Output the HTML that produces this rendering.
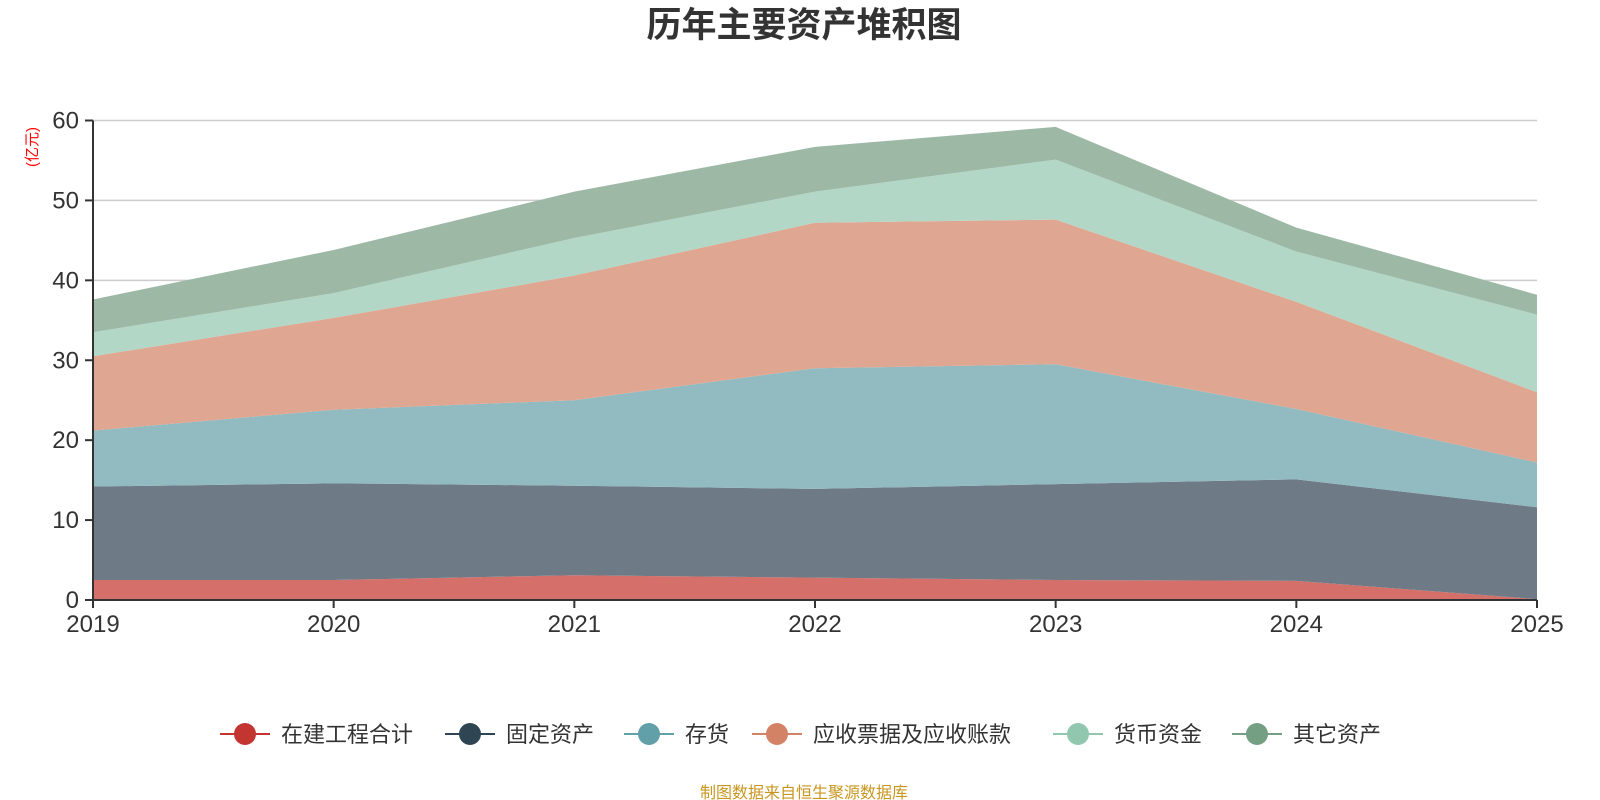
<!DOCTYPE html>
<html><head><meta charset="utf-8"><style>
body{margin:0;background:#fff;width:1600px;height:800px;overflow:hidden;font-family:"Liberation Sans","Noto Sans CJK SC",sans-serif;}
</style></head><body>
<svg width="1600" height="800" style="position:absolute;left:0;top:0">
<text x="804" y="37" text-anchor="middle" font-size="35" font-weight="bold" fill="#333">历年主要资产堆积图</text>
<text transform="translate(37,147) rotate(-90)" text-anchor="middle" font-size="15" fill="#ff0000">(亿元)</text>
<g id="grid"></g><g id="areas"></g><g id="axes"></g><g id="legend"></g>
<text x="804" y="798" text-anchor="middle" font-size="16" fill="#c8961e">制图数据来自恒生聚源数据库</text>
</svg>
<script>
const years=['2019','2020','2021','2022','2023','2024','2025'];
const seriesNames=['在建工程合计','固定资产','存货','应收票据及应收账款','货币资金','其它资产'];
const s0=[2.5,2.5,3.1,2.8,2.5,2.4,0.1];
const s1=[11.7,12.1,11.2,11.1,12.0,12.7,11.5];
const s2=[7.0,9.2,10.7,15.1,15.0,8.8,5.6];
const s3=[9.3,11.5,15.6,18.2,18.1,13.4,8.8];
const s4=[3.0,3.1,4.7,3.9,7.5,6.3,9.7];
const s5=[4.1,5.4,5.8,5.6,4.1,3.0,2.5];
const yTicks=[0,10,20,30,40,50,60];
const series=[s0,s1,s2,s3,s4,s5];
const fills=['#d46f6a','#6e7b86','#91bac1','#dfa692','#b2d7c6','#9db9a5'];
const lineC=['#c23531','#2f4554','#61a0a8','#d48265','#91c7ae','#749f83'];
const X0=93,X1=1537,Y0=600,Y1=120.5;
const x=i=>X0+(X1-X0)*i/(years.length-1);
const y=v=>Y0-(Y0-Y1)*v/60;
const NS='http://www.w3.org/2000/svg';
function mk(t,a,p){const e=document.createElementNS(NS,t);for(const k in a)e.setAttribute(k,a[k]);p.appendChild(e);return e;}
const grid=document.getElementById('grid'),areas=document.getElementById('areas'),axes=document.getElementById('axes'),leg=document.getElementById('legend');
yTicks.forEach(t=>{
 if(t>0){const g=mk('line',{x1:X0,x2:X1,y1:y(t),y2:y(t),stroke:'#ccc','stroke-width':1.5},grid);
 
 }
 const tk=mk('line',{x1:X0-8,x2:X0,y1:y(t),y2:y(t),stroke:'#333','stroke-width':2},axes);
 
 
 const l=mk('text',{x:X0-14,y:y(t)+8,'text-anchor':'end','font-size':24,fill:'#333'},axes);l.textContent=t;
 
 
});
let cum=years.map(()=>0);
series.forEach((s,k)=>{
 const lo=cum.slice();cum=cum.map((c,i)=>c+s[i]);
 let d='M'+years.map((_,i)=>x(i)+','+y(cum[i])).join('L');
 for(let i=years.length-1;i>=0;i--)d+='L'+x(i)+','+y(lo[i]);
 const p=mk('path',{d:d+'Z',fill:fills[k]},areas);
 
 
});
const ya=mk('line',{x1:X0,x2:X0,y1:Y1,y2:Y0,stroke:'#333','stroke-width':2},axes);


const xa=mk('line',{x1:X0,x2:X1,y1:Y0,y2:Y0,stroke:'#333','stroke-width':2},axes);


years.forEach((yr,i)=>{
 const tk=mk('line',{x1:x(i),x2:x(i),y1:Y0,y2:Y0+8,stroke:'#333','stroke-width':2},axes);
 
 
 const l=mk('text',{x:x(i),y:Y0+32,'text-anchor':'middle','font-size':24,fill:'#333'},axes);l.textContent=yr;
 
 
});
const lx=[220,445,624,752,1053,1232];
seriesNames.forEach((n,k)=>{
 const g=mk('g',{},leg);
 
 
 mk('line',{x1:lx[k],x2:lx[k]+50,y1:734,y2:734,stroke:lineC[k],'stroke-width':2},g);
 mk('circle',{cx:lx[k]+25,cy:734,r:11,fill:lineC[k]},g);
 const t=mk('text',{x:lx[k]+61,y:742,'font-size':22,fill:'#333'},g);t.textContent=n;
});
</script>
</body></html>
